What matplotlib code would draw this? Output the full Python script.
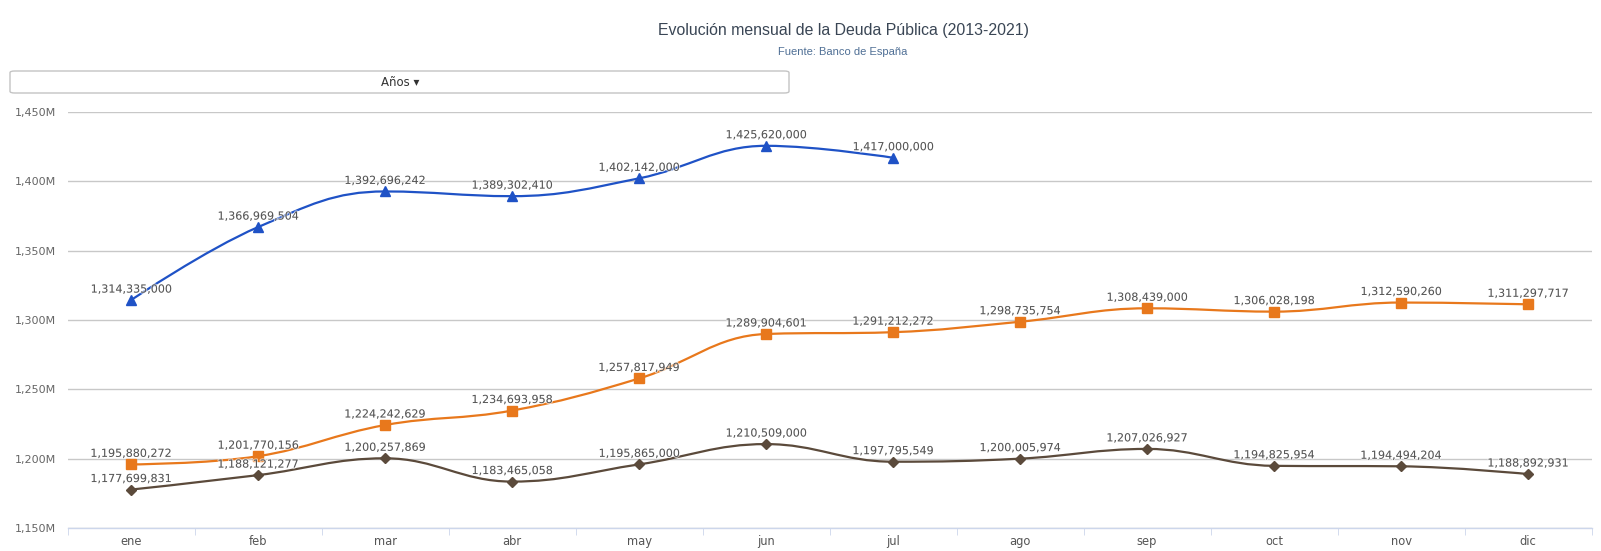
import numpy as np
import matplotlib
matplotlib.use('Agg')
import matplotlib.pyplot as plt
from matplotlib.path import Path
from matplotlib.patches import PathPatch, FancyBboxPatch
from matplotlib.ticker import FuncFormatter, FixedLocator
import matplotlib.patheffects as pe

# datos (Banco de España)
meses = ['ene', 'feb', 'mar', 'abr', 'may', 'jun', 'jul', 'ago', 'sep', 'oct', 'nov', 'dic']
deuda_2019 = [1177699831, 1188121277, 1200257869, 1183465058, 1195865000, 1210509000,
              1197795549, 1200005974, 1207026927, 1194825954, 1194494204, 1188892931]
deuda_2020 = [1195880272, 1201770156, 1224242629, 1234693958, 1257817949, 1289904601,
              1291212272, 1298735754, 1308439000, 1306028198, 1312590260, 1311297717]
deuda_2021 = [1314335000, 1366969504, 1392696242, 1389302410, 1402142000, 1425620000,
              1417000000]
y_ticks = [1150e6, 1200e6, 1250e6, 1300e6, 1350e6, 1400e6, 1450e6]


# curva tipo "spline" (suavizado 1.5, como Highcharts)
def spline_path(xs, ys, s=1.5):
    n = len(xs)
    d = s + 1
    lc = [(xs[i], ys[i]) for i in range(n)]
    rc = [(xs[i], ys[i]) for i in range(n)]
    for i in range(1, n - 1):
        x, y = xs[i], ys[i]
        lx, ly = xs[i - 1], ys[i - 1]
        nx, ny = xs[i + 1], ys[i + 1]
        lcx = (s * x + lx) / d
        lcy = (s * y + ly) / d
        rcx = (s * x + nx) / d
        rcy = (s * y + ny) / d
        corr = 0
        if rcx != lcx:
            corr = (rcy - lcy) * (rcx - x) / (rcx - lcx) + y - rcy
        lcy += corr
        rcy += corr
        if lcy > ly and lcy > y:
            lcy = max(ly, y); rcy = 2 * y - lcy
        elif lcy < ly and lcy < y:
            lcy = min(ly, y); rcy = 2 * y - lcy
        if rcy > ny and rcy > y:
            rcy = max(ny, y); lcy = 2 * y - rcy
        elif rcy < ny and rcy < y:
            rcy = min(ny, y); lcy = 2 * y - rcy
        lc[i] = (lcx, lcy)
        rc[i] = (rcx, rcy)
    verts = [(xs[0], ys[0])]
    codes = [Path.MOVETO]
    for i in range(1, n):
        verts += [rc[i - 1], lc[i], (xs[i], ys[i])]
        codes += [Path.CURVE4] * 3
    return Path(verts, codes)


fig = plt.figure(figsize=(16.01, 5.51), dpi=100, facecolor='white')
ax = fig.add_axes([67.5 / 1601, 23 / 551, 1524 / 1601, 416 / 551])

series = [
    (deuda_2019, '#5b4a3b', 'D', 5),
    (deuda_2020, '#e8781c', 's', 6.5),
    (deuda_2021, '#1f52c6', '^', 7),
]
for vals, color, mk, ms in series:
    x = np.arange(len(vals))
    ax.add_patch(PathPatch(spline_path(x, vals), fill=False, edgecolor=color,
                           linewidth=1.6, zorder=3))
    ax.plot(x, vals, linestyle='none', marker=mk, markersize=ms, color=color, zorder=4)
    for xi, v in zip(x, vals):
        ax.annotate(f'{v:,}', (xi, v), xytext=(0, 4), textcoords='offset points',
                    ha='center', va='bottom', fontsize=8, color='#555555', zorder=5,
                    path_effects=[pe.withStroke(linewidth=1.5, foreground='white', alpha=0.6)])

ax.set_xlim(-0.5, len(meses) - 0.5)
ax.set_ylim(1150e6, 1450e6)
ax.set_xticks(np.arange(len(meses)))
ax.set_xticklabels(meses)
ax.xaxis.set_minor_locator(FixedLocator(np.arange(-0.5, len(meses), 1)))
ax.tick_params(axis='x', which='major', length=0, pad=5, labelsize=8.3, labelcolor='#555555')
ax.tick_params(axis='x', which='minor', length=5, color='#ccd6eb', direction='out')
ax.set_yticks(y_ticks)
ax.yaxis.set_major_formatter(FuncFormatter(lambda v, p: f'{v / 1e6:,.0f}M'))
ax.tick_params(axis='y', length=0, pad=8, labelsize=8, labelcolor='#666666')
ax.grid(axis='y', color='#c8c8c8', linewidth=1)
ax.set_axisbelow(True)
for s in ['top', 'right', 'left']:
    ax.spines[s].set_visible(False)
ax.spines['bottom'].set_color('#ccd6eb')
ax.spines['bottom'].set_linewidth(1)
ax.spines['bottom'].set_zorder(2)

fig.text(843 / 1601, 1 - 31 / 551, 'Evolución mensual de la Deuda Pública (2013-2021)',
         ha='center', va='center', fontsize=11.4, color='#3a4655', family='Liberation Sans')
fig.text(843 / 1601, 1 - 52 / 551, 'Fuente: Banco de España',
         ha='center', va='center', fontsize=8, color='#4f6f95', family='Liberation Sans')

# selector "Años"
box = FancyBboxPatch((10 / 1601, 1 - 93 / 551), 779 / 1601, 22 / 551,
                     boxstyle='round,pad=0,rounding_size=0.003', transform=fig.transFigure,
                     facecolor='white', edgecolor='#c4c4c4', linewidth=1)
fig.patches.append(box)
fig.text(400 / 1601, 1 - 82 / 551, 'Años ▾', ha='center', va='center', fontsize=8.5,
         color='#333333')

fig.savefig('out.png', dpi=100, facecolor='white')
